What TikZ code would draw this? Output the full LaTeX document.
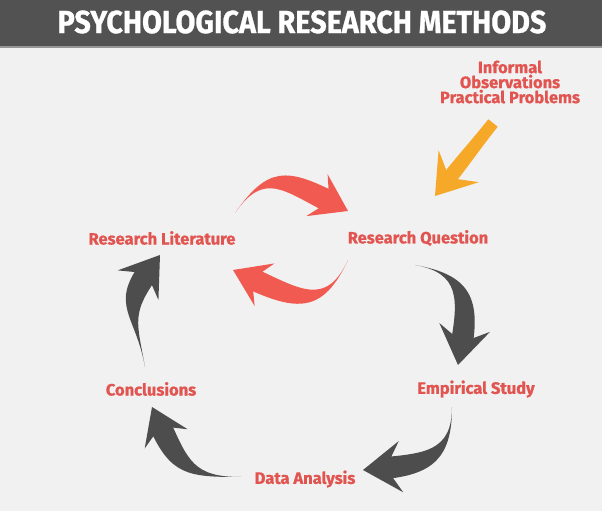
\documentclass[tikz,border=0pt]{standalone}
\usepackage{fontspec}
\setmainfont{Fira Sans}[BoldFeatures={FakeBold=0.8}]
\usepackage{graphicx}
\usetikzlibrary{calc}
\definecolor{mybg}{RGB}{241,241,241}
\definecolor{mybar}{RGB}{82,82,82}
\definecolor{myline}{RGB}{150,150,150}
\definecolor{myred}{RGB}{226,84,80}
\definecolor{myarrow}{RGB}{240,90,80}
\definecolor{mydark}{RGB}{77,77,77}
\definecolor{myorange}{RGB}{246,168,40}
\tikzset{
  stage/.style={font=\fontsize{16.5}{15}\selectfont\bfseries, text=myred, inner sep=0pt, align=center},
  headline/.style={font=\fontsize{32}{32}\selectfont\bfseries, text=white, inner sep=0pt}
}
% #1 colour, #2 tail, #3 tip, #4 out, #5 in, #6 tail width, #7 neck width, #8 head length, #9 looseness
\newcommand{\brush}[9]{%
  \pgfmathsetmacro{\brL}{#4+90}\pgfmathsetmacro{\brR}{#4-90}%
  \pgfmathsetmacro{\nkL}{#5-90}\pgfmathsetmacro{\nkR}{#5+90}%
  \pgfmathsetmacro{\wgA}{#5+34}\pgfmathsetmacro{\wgB}{#5-34}%
  \fill[#1] ($(#2)+(\brL:#6)$) to[out=#4,in=#5,looseness=#9] ($(#3)+(#5:0.4*#8)+(\nkL:#7)$)
    -- ($(#3)+(#5:0.4*#8)+(\nkR:#7)$) to[out=#5,in=#4,looseness=#9] ($(#2)+(\brR:#6)$) -- cycle;
  \fill[#1] (#3) -- ($(#3)+(\wgA:#8)$) -- ($(#3)+(#5:0.5*#8)$) -- ($(#3)+(\wgB:#8)$) -- cycle;
}

\begin{document}
\begin{tikzpicture}[x=1pt, y=1pt]
  \useasboundingbox (0,0) rectangle (602,511);
  \fill[mybg] (0,0) rectangle (602,511);
  \fill[mybar] (0,464) rectangle (602,511);
  \draw[myline, line width=1.5pt] (0,464) -- (602,464);
  \node [headline] (title) at (302,489) {\scalebox{0.9}[1]{PSYCHOLOGICAL RESEARCH METHODS}};

  \node [stage] (lit) at (162,273) {Research Literature};
  \node [stage] (question) at (418,273) {Research Question};
  \node [stage] (empirical) at (476,122) {Empirical Study};
  \node [stage] (concl) at (151,122) {Conclusions};
  \node [stage] (analysis) at (305,32) {Data Analysis};
  \node [stage] (informal) at (510,429) {Informal\\Observations\\Practical Problems};

  \coordinate (orangeT) at (493,388);
  \coordinate (orangeH) at (435,315);
  \coordinate (redTopT) at (235,298);
  \coordinate (redTopH) at (348,300);
  \coordinate (redBotT) at (348,251);
  \coordinate (redBotH) at (233,241);
  \coordinate (rightT) at (415,246);
  \coordinate (rightH) at (458,146);
  \coordinate (lowRT) at (452,104);
  \coordinate (lowRH) at (363,41);
  \coordinate (lowLT) at (241,34);
  \coordinate (lowLH) at (152,104);
  \coordinate (leftT) at (145,144);
  \coordinate (leftH) at (160,256);

  \brush{myorange}{orangeT}{orangeH}{231.5}{51.5}{6}{7.5}{46}{1}
  \brush{myarrow}{redTopT}{redTopH}{55}{153}{0}{11}{42}{1.4}
  \brush{myarrow}{redBotT}{redBotH}{-115}{-25}{0}{11}{42}{1.4}
  \brush{mydark}{rightT}{rightH}{-10}{80}{0}{11}{46}{1.35}
  \brush{mydark}{lowRT}{lowRH}{-90}{5}{0}{11}{46}{1.3}
  \brush{mydark}{lowLT}{lowLH}{180}{-66}{0}{11}{42}{1.3}
  \brush{mydark}{leftT}{leftH}{100}{-126}{0}{11}{45}{1.3}
\end{tikzpicture}
\end{document}
